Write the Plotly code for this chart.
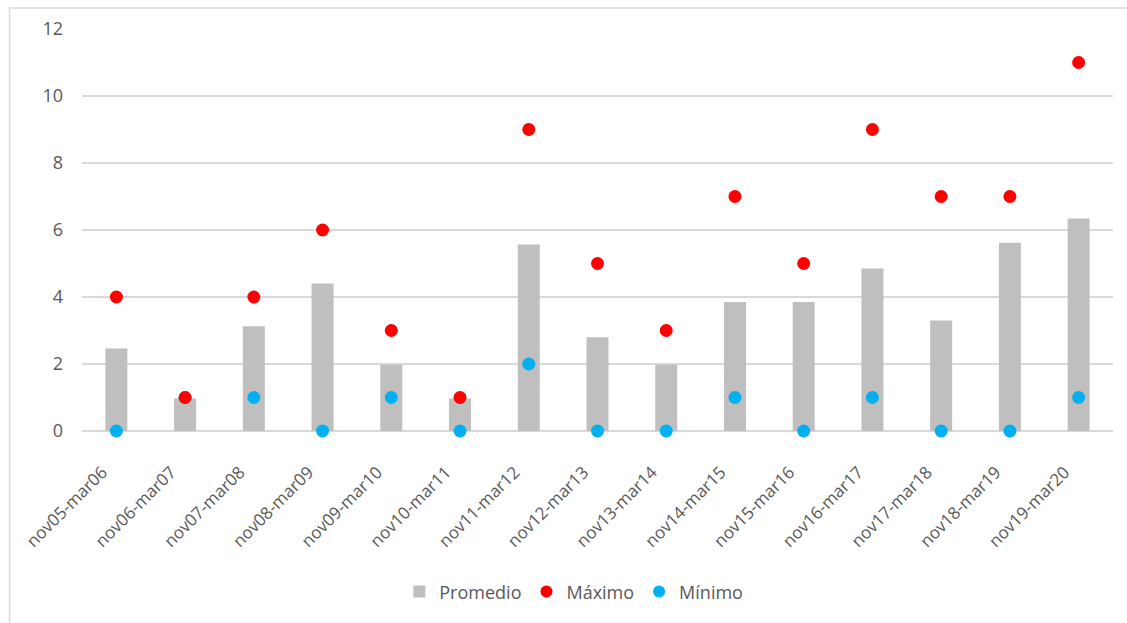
import plotly.graph_objects as go

# Temporadas (noviembre a marzo)
temporadas = [
    "nov05-mar06", "nov06-mar07", "nov07-mar08", "nov08-mar09", "nov09-mar10",
    "nov10-mar11", "nov11-mar12", "nov12-mar13", "nov13-mar14", "nov14-mar15",
    "nov15-mar16", "nov16-mar17", "nov17-mar18", "nov18-mar19", "nov19-mar20",
]
promedio = [2.46, 0.97, 3.13, 4.40, 1.98, 0.97, 5.57, 2.80, 1.98, 3.85,
            3.85, 4.85, 3.30, 5.62, 6.34]
maximo = [4, 1, 4, 6, 3, 1, 9, 5, 3, 7, 5, 9, 7, 7, 11]
minimo = [0, 1, 1, 0, 1, 0, 2, 0, 0, 1, 0, 1, 0, 0, 1]
y_ticks = [0, 2, 4, 6, 8, 10, 12]

FONT = "Open Sans, Liberation Sans, sans-serif"
TEXT = "#595959"

fig = go.Figure()
fig.add_trace(go.Bar(
    x=temporadas, y=promedio, name="Promedio",
    marker=dict(color="#BFBFBF", line=dict(width=0)),
    legendrank=1,
))
fig.add_trace(go.Scatter(
    x=temporadas, y=minimo, name="Mínimo", mode="markers",
    marker=dict(color="#00B0F0", size=13),
    cliponaxis=False, legendrank=3,
))
fig.add_trace(go.Scatter(
    x=temporadas, y=maximo, name="Máximo", mode="markers",
    marker=dict(color="#FF0000", size=13),
    cliponaxis=False, legendrank=2,
))

fig.update_layout(
    width=1127, height=623,
    margin=dict(l=82, r=14, t=29, b=192),
    paper_bgcolor="white", plot_bgcolor="white",
    bargap=0.68,
    font=dict(family=FONT, color=TEXT, size=18),
    showlegend=True,
    legend=dict(
        orientation="h", x=0.477, xanchor="center", y=-0.40, yanchor="middle",
        font=dict(size=18, color=TEXT), itemsizing="constant",
        traceorder="normal", itemwidth=30, tracegroupgap=0,
    ),
    xaxis=dict(
        tickangle=-45, showgrid=False, showline=False, ticks="",
        tickfont=dict(size=17, color=TEXT),
        range=[-0.5, 14.5], automargin=False,
        ticklabelshift=-14, ticklabelstandoff=27,
    ),
    yaxis=dict(
        range=[0, 12], tickvals=y_ticks, showgrid=True,
        gridcolor="#D9D9D9", gridwidth=1.5,
        zeroline=True, zerolinecolor="#D9D9D9", zerolinewidth=1.5,
        showline=False, ticks="", ticklabelstandoff=18,
        tickfont=dict(size=18, color=TEXT), automargin=False,
    ),
    shapes=[dict(
        type="rect", xref="paper", yref="paper",
        x0=-0.0703, x1=1.03, y0=-0.50, y1=1.0522,
        line=dict(color="#D9D9D9", width=1.5), fillcolor="rgba(0,0,0,0)",
        layer="below",
    )],
)

fig.write_html("out.html")
